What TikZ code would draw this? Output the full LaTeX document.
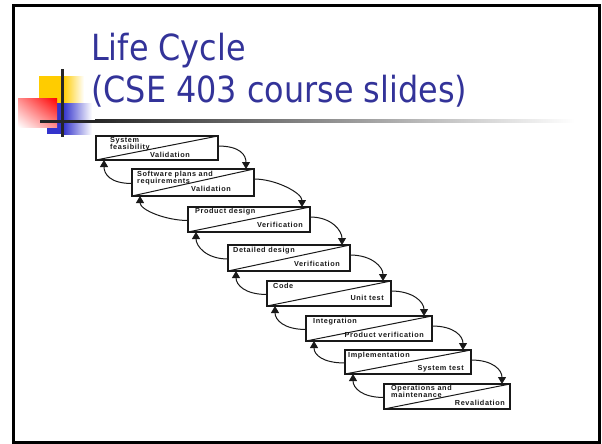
\documentclass[tikz,border=0pt]{standalone}
\usepackage{fontspec}
\setmainfont{Liberation Sans}
\newfontfamily\titlefont{DejaVu Sans}[FakeStretch=0.885]
\newfontfamily\boxfont{Liberation Sans}[LetterSpace=8]
\usetikzlibrary{arrows.meta,calc,shadings}
\definecolor{titleblue}{RGB}{51,51,153}
\definecolor{decoyellow}{RGB}{255,204,0}
\definecolor{decoblue}{RGB}{51,51,204}
\definecolor{decored}{RGB}{255,0,0}
\definecolor{ink}{RGB}{25,25,25}
\begin{document}
\begin{tikzpicture}[x=1pt,y=-1pt,
  stage/.style={draw=ink, line width=1.2pt, rectangle, inner sep=0pt, outer sep=0pt, anchor=north west},
  lbl/.style={font=\boxfont\bfseries\fontsize{7.3}{8}\selectfont, inner sep=0pt, text=ink},
  ttl/.style={font=\titlefont\fontsize{36}{40}\selectfont, inner sep=0pt, text=titleblue, anchor=base west},
  fwd/.style={draw=ink, line width=1pt, -{Triangle[width=8pt,length=7pt]}},
  bwd/.style={draw=ink, line width=1pt, -{Triangle[width=8pt,length=7pt]}}
]
\useasboundingbox (0,0) rectangle (602,444);
\fill[white] (0,0) rectangle (602,444);
% slide frame
\draw[black, line width=3pt] (13,6) rectangle (599,442);

% decoration squares
\fill[decoyellow] (39,76) rectangle (63,103);
\shade[left color=decoyellow, right color=white] (63,76) rectangle (84,103);
\fill[decoblue] (47,103) rectangle (63,134);
\shade[left color=decoblue, right color=white] (63,103) rectangle (92,134);
\shade[upper right=decored, lower left=white, upper left=decored!45!white, lower right=decored!45!white] (18,98) rectangle (57,127);
% lines
\fill[black!85] (60.5,69) rectangle (63.5,137);
\fill[black!85] (40,119.5) rectangle (95,122.5);
\shade[left color=black!85, right color=white] (95,119.5) rectangle (575,122.5);

% title
\node[ttl] (title1) at (91,60) {Life Cycle};
\node[ttl] (title2) at (91,102) {(CSE 403 course slides)};

% stages
\node[stage, minimum width=122pt, minimum height=24pt] (b1) at (96,136) {};
\node[stage, minimum width=122pt, minimum height=27pt] (b2) at (132,169) {};
\node[stage, minimum width=122pt, minimum height=25pt] (b3) at (188,207) {};
\node[stage, minimum width=122pt, minimum height=26pt] (b4) at (228,245) {};
\node[stage, minimum width=124pt, minimum height=25pt] (b5) at (267,281) {};
\node[stage, minimum width=126pt, minimum height=25pt] (b6) at (306,316) {};
\node[stage, minimum width=126pt, minimum height=24pt] (b7) at (345,350) {};
\node[stage, minimum width=126pt, minimum height=25pt] (b8) at (384,384) {};
\foreach \b in {b1,b2,b3,b4,b5,b6,b7,b8}
  \draw[ink, line width=1pt] (\b.south west) -- (\b.north east);

% texts
\node[lbl, anchor=base west] (t1a) at (110,142) {System};
\node[lbl, anchor=base west] (t1b) at (110,149) {feasibility};
\node[lbl, anchor=base east] (t1c) at (190,157) {Validation};
\node[lbl, anchor=base west] (t2a) at (137,176) {Software plans and};
\node[lbl, anchor=base west] (t2b) at (137,183) {requirements};
\node[lbl, anchor=base east] (t2c) at (231,191) {Validation};
\node[lbl, anchor=base west] (t3a) at (195,213) {Product design};
\node[lbl, anchor=base east] (t3b) at (303,227) {Verification};
\node[lbl, anchor=base west] (t4a) at (233,252) {Detailed design};
\node[lbl, anchor=base east] (t4b) at (340,266) {Verification};
\node[lbl, anchor=base west] (t5a) at (273,288) {Code};
\node[lbl, anchor=base east] (t5b) at (384,300) {Unit test};
\node[lbl, anchor=base west] (t6a) at (313,323) {Integration};
\node[lbl, anchor=base east] (t6b) at (424,337) {Product verification};
\node[lbl, anchor=base west] (t7a) at (348,357) {Implementation};
\node[lbl, anchor=base east] (t7b) at (464,370) {System test};
\node[lbl, anchor=base west] (t8a) at (391,390) {Operations and};
\node[lbl, anchor=base west] (t8b) at (391,397) {maintenance};
\node[lbl, anchor=base east] (t8c) at (505,405) {Revalidation};

% connectors
\foreach \i/\j in {b1/b2,b2/b3,b3/b4,b4/b5,b5/b6,b6/b7,b7/b8} {
  \coordinate (fs) at ($(\i.north east)+(0,10)$);
  \coordinate (fe) at ($(\j.north east)+(-8,0)$);
  \draw[fwd] (fs) .. controls ($(fs)+(22,0)$) and ($(fe)+(0,-14)$) .. (fe);
  \coordinate (bs) at ($(\j.west)+(0,1)$);
  \coordinate (be) at ($(\i.south west)+(8,0)$);
  \draw[bwd] (bs) .. controls ($(bs)+(-22,0)$) and ($(be)+(0,14)$) .. (be);
}
\end{tikzpicture}
\end{document}
